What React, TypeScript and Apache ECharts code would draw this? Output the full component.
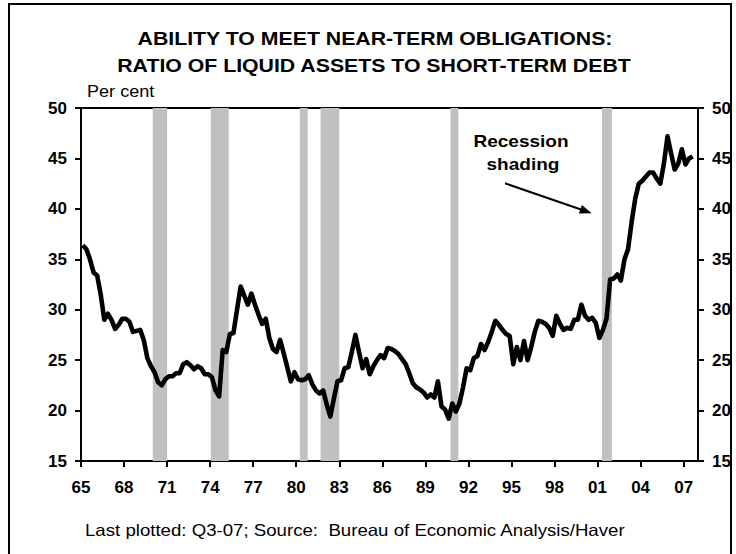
import React, { useEffect, useRef } from "react";
import * as echarts from "echarts";

// Quarterly ratio, 1965Q1 .. 2007Q3 (per cent)
const startYear = 1965;
const ratioValues: number[] = [
  36.4, 36.0, 35.0, 33.7, 33.4, 31.5, 29.0, 29.6, 29.0, 28.1,
  28.5, 29.1, 29.1, 28.8, 27.8, 27.9, 28.0, 27.0, 25.2, 24.4,
  23.8, 22.8, 22.5, 23.1, 23.4, 23.4, 23.7, 23.7, 24.6, 24.8,
  24.5, 24.1, 24.4, 24.2, 23.6, 23.6, 23.3, 22.0, 21.4, 26.0,
  25.8, 27.6, 27.7, 30.0, 32.3, 31.4, 30.5, 31.6, 30.5, 29.5,
  28.6, 29.1, 27.2, 26.1, 25.8, 27.0, 25.7, 24.3, 22.9, 23.8,
  23.1, 23.0, 23.1, 23.5, 22.6, 22.0, 21.7, 22.0, 20.6, 19.4,
  21.2, 22.9, 23.0, 24.2, 24.3, 25.8, 27.5, 25.8, 24.2, 25.1,
  23.6, 24.4, 25.0, 25.5, 25.2, 26.2, 26.1, 25.9, 25.6, 25.1,
  24.6, 23.7, 22.7, 22.3, 22.1, 21.8, 21.3, 21.6, 21.3, 22.9,
  20.4, 20.1, 19.2, 20.7, 19.9, 20.7, 22.3, 24.2, 24.0, 25.2,
  25.4, 26.6, 26.0, 26.8, 27.8, 28.9, 28.5, 28.0, 27.6, 27.4,
  24.6, 26.3, 25.0, 26.9, 25.0, 26.3, 27.8, 28.9, 28.8, 28.6,
  28.2, 27.4, 29.4, 28.6, 28.0, 28.2, 28.1, 29.0, 29.0, 30.5,
  29.4, 29.0, 29.2, 28.7, 27.2, 28.0, 29.1, 33.0, 33.1, 33.5,
  32.9, 35.0, 36.0, 38.7, 41.0, 42.5, 42.8, 43.2, 43.6, 43.6,
  43.0, 42.5, 44.5, 47.2, 45.5, 43.9, 44.5, 45.9, 44.4, 45.0,
  45.2,
];

// Recession periods (fractional years)
const recessionStarts: number[] = [1970.0, 1974.05, 1980.25, 1981.7, 1990.75, 2001.3];
const recessionEnds: number[] = [1971.0, 1975.3, 1980.8, 1983.0, 1991.3, 2002.0];

const xTickYears: number[] = [1965, 1968, 1971, 1974, 1977, 1980, 1983, 1986, 1989, 1992, 1995, 1998, 2001, 2004, 2007];
const xTickLabels: string[] = ["65", "68", "71", "74", "77", "80", "83", "86", "89", "92", "95", "98", "01", "04", "07"];

const FONT = '"Liberation Sans", Arial, Helvetica, sans-serif';

export default function App() {
  const ref = useRef<HTMLDivElement>(null);

  useEffect(() => {
    if (!ref.current) return;
    const chart = echarts.init(ref.current, undefined, { renderer: "svg" });

    const lineData = ratioValues.map((v, i) => [startYear + i / 4 + 0.125, v]);
    const recData = recessionStarts.map((s, i) => [s, recessionEnds[i]]);

    const yAxisCommon = {
      type: "value",
      min: 15,
      max: 50,
      interval: 5,
      splitLine: { show: false },
      axisLine: { show: true, lineStyle: { color: "#000", width: 2 } },
      axisTick: { show: true, inside: false, length: 6, lineStyle: { color: "#000", width: 2 } },
      axisLabel: {
        color: "#000",
        fontFamily: FONT,
        fontWeight: "bold",
        fontSize: 17,
        margin: 14,
      },
    };

    const option: any = {
      animation: false,
      backgroundColor: "#fff",
      grid: { left: 81, right: 38, top: 108, bottom: 93, containLabel: false },
      xAxis: [
        {
          type: "value",
          position: "bottom",
          min: 1965,
          max: 2008,
          interval: 3,
          splitLine: { show: false },
          axisLine: { show: true, onZero: false, lineStyle: { color: "#000", width: 2 } },
          axisTick: { show: true, inside: false, length: 6, lineStyle: { color: "#000", width: 2 } },
          axisLabel: {
            color: "#000",
            fontFamily: FONT,
            fontWeight: "bold",
            fontSize: 17,
            margin: 18,
            showMaxLabel: false,
            formatter: (v: number) => {
              const idx = xTickYears.indexOf(Math.round(v));
              if (Math.abs(v - Math.round(v)) > 1e-6 || idx < 0) return "";
              return xTickLabels[idx];
            },
          },
        },
        {
          type: "value",
          position: "top",
          min: 1965,
          max: 2008,
          splitLine: { show: false },
          axisLine: { show: true, onZero: false, lineStyle: { color: "#000", width: 2 } },
          axisTick: { show: false },
          axisLabel: { show: false },
        },
      ],
      yAxis: [
        { ...yAxisCommon, position: "left" },
        { ...yAxisCommon, position: "right" },
      ],
      series: [
        {
          type: "custom",
          xAxisIndex: 0,
          yAxisIndex: 0,
          clip: true,
          z: 1,
          data: recData,
          renderItem: (params: any, api: any) => {
            const p1 = api.coord([api.value(0), 50]);
            const p2 = api.coord([api.value(1), 15]);
            return {
              type: "rect",
              shape: { x: p1[0], y: p1[1], width: p2[0] - p1[0], height: p2[1] - p1[1] },
              style: { fill: "#c0c0c0" },
            };
          },
        },
        {
          type: "line",
          xAxisIndex: 0,
          yAxisIndex: 0,
          data: lineData,
          symbol: "none",
          z: 3,
          lineStyle: { color: "#000", width: 4.6, join: "round" },
        },
      ],
      graphic: [
        {
          type: "rect",
          silent: true,
          shape: { x: 9, y: 4, width: 722, height: 620 },
          style: { fill: "none", stroke: "#000", lineWidth: 2 },
          z: 100,
        },
        {
          type: "text",
          x: 375,
          y: 38.5,
          scaleX: 1.12,
          style: {
            text: "ABILITY TO MEET NEAR-TERM OBLIGATIONS:",
            fontFamily: FONT,
            fontWeight: "bold",
            fontSize: 19,
            fill: "#000",
            textAlign: "center",
            textVerticalAlign: "middle",
            align: "center",
            verticalAlign: "middle",
          },
        },
        {
          type: "text",
          x: 374,
          y: 65,
          scaleX: 1.12,
          style: {
            text: "RATIO OF LIQUID ASSETS TO SHORT-TERM DEBT",
            fontFamily: FONT,
            fontWeight: "bold",
            fontSize: 19,
            fill: "#000",
            textAlign: "center",
            textVerticalAlign: "middle",
            align: "center",
            verticalAlign: "middle",
          },
        },
        {
          type: "text",
          x: 87,
          y: 91.7,
          scaleX: 1.13,
          style: {
            text: "Per cent",
            fontFamily: FONT,
            fontSize: 16,
            fill: "#000",
            textAlign: "left",
            textVerticalAlign: "middle",
            align: "left",
            verticalAlign: "middle",
          },
        },
        {
          type: "text",
          x: 521,
          y: 141.2,
          scaleX: 1.12,
          style: {
            text: "Recession",
            fontFamily: FONT,
            fontWeight: "bold",
            fontSize: 17,
            fill: "#000",
            textAlign: "center",
            textVerticalAlign: "middle",
            align: "center",
            verticalAlign: "middle",
          },
        },
        {
          type: "text",
          x: 523,
          y: 164.5,
          scaleX: 1.12,
          style: {
            text: "shading",
            fontFamily: FONT,
            fontWeight: "bold",
            fontSize: 17,
            fill: "#000",
            textAlign: "center",
            textVerticalAlign: "middle",
            align: "center",
            verticalAlign: "middle",
          },
        },
        {
          type: "line",
          shape: { x1: 505, y1: 183.3, x2: 581, y2: 209.5 },
          style: { stroke: "#000", lineWidth: 2 },
        },
        {
          type: "polygon",
          shape: { points: [[591.7, 213.3], [578.9, 213.6], [581.9, 205.1]] },
          style: { fill: "#000" },
        },
        {
          type: "text",
          x: 85,
          y: 530,
          scaleX: 1.13,
          style: {
            text: "Last plotted: Q3-07; Source:  Bureau of Economic Analysis/Haver",
            fontFamily: FONT,
            fontSize: 16.5,
            fill: "#000",
            textAlign: "left",
            textVerticalAlign: "middle",
            align: "left",
            verticalAlign: "middle",
          },
        },
      ],
    };

    chart.setOption(option);
    return () => {
      chart.dispose();
    };
  }, []);

  return (
    <div
      ref={ref}
      style={{ position: "absolute", left: 0, top: 0, width: 736, height: 554, background: "#fff" }}
    />
  );
}
